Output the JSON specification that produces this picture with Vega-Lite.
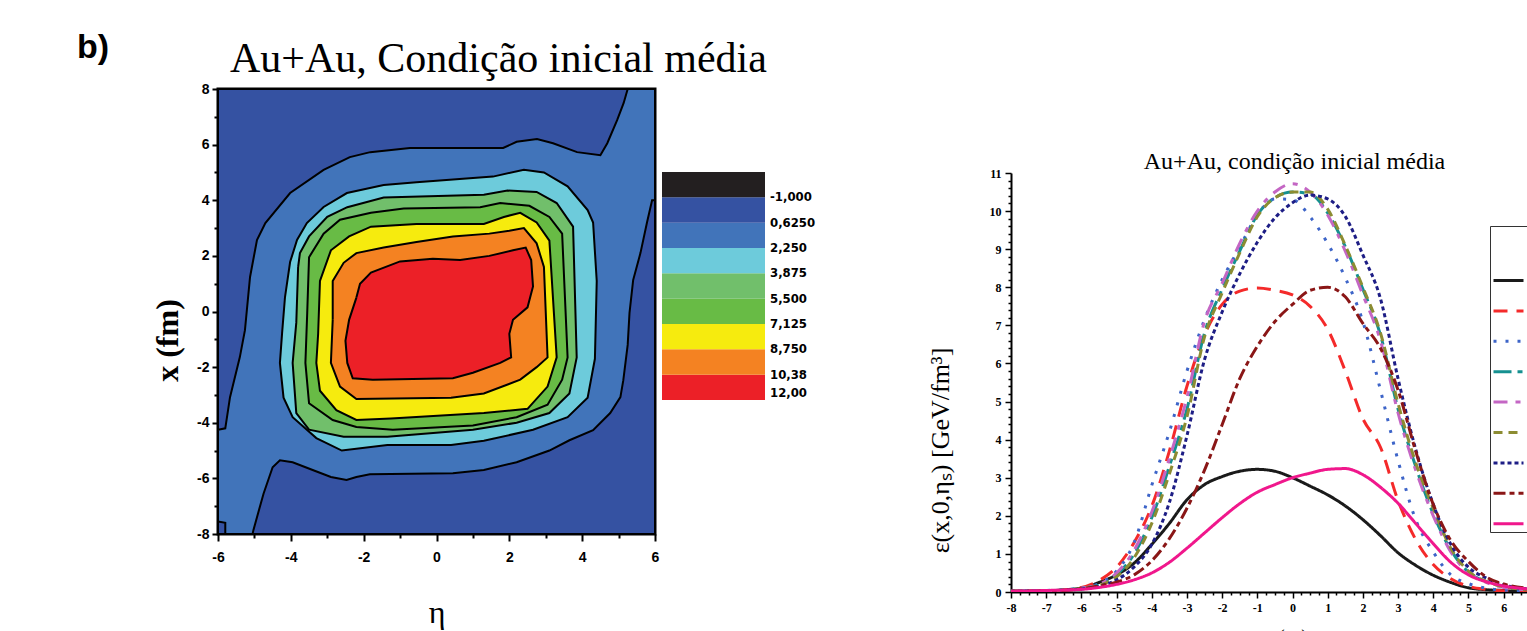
{
  "$schema": "https://vega.github.io/schema/vega-lite/v6.json",
  "autosize": {"type": "none", "resize": false},
  "padding": {"left": 218, "top": 89, "right": 1309, "bottom": 542},
  "background": "white",
  "title": {"text": "b)", "anchor": "start", "frame": "bounds", "offset": -28, "dx": -73, "font": "Liberation Sans", "fontWeight": "bold", "fontSize": 34, "color": "black"},
  "spacing": 158,
  "config": {
    "axis": {"labelColor": "black", "tickColor": "black", "domainColor": "black", "titleColor": "black", "grid": false},
    "legend": {"labelColor": "black"},
    "view": {"stroke": null}
  },
  "datasets": {
    "contours": [
      {"lvl":0,"i":0,"eta":-6,"x":-8,"nv":0.2},{"lvl":0,"i":1,"eta":6,"x":-8,"nv":0.2},{"lvl":0,"i":2,"eta":6,"x":8,"nv":0.2},{"lvl":0,"i":3,"eta":-6,"x":8,"nv":0.2},{"lvl":0,"i":4,"eta":-6,"x":-8,"nv":0.2},
      {"lvl":1,"i":0,"eta":-6,"x":-4.25,"nv":-1.4},{"lvl":1,"i":1,"eta":-5.8,"x":-4.2,"nv":-1.4},{"lvl":1,"i":2,"eta":-5.67,"x":-3.08,"nv":-1.4},{"lvl":1,"i":3,"eta":-5.4,"x":-1.64,"nv":-1.4},{"lvl":1,"i":4,"eta":-5.26,"x":-0.67,"nv":-1.4},{"lvl":1,"i":5,"eta":-5.12,"x":1.24,"nv":-1.4},{"lvl":1,"i":6,"eta":-4.93,"x":2.57,"nv":-1.4},{"lvl":1,"i":7,"eta":-4.7,"x":3.18,"nv":-1.4},{"lvl":1,"i":8,"eta":-4.02,"x":4.26,"nv":-1.4},{"lvl":1,"i":9,"eta":-3.1,"x":5.09,"nv":-1.4},{"lvl":1,"i":10,"eta":-2.38,"x":5.55,"nv":-1.4},{"lvl":1,"i":11,"eta":-1.82,"x":5.73,"nv":-1.4},{"lvl":1,"i":12,"eta":-0.73,"x":5.88,"nv":-1.4},{"lvl":1,"i":13,"eta":1.83,"x":5.88,"nv":-1.4},{"lvl":1,"i":14,"eta":2.2,"x":6.1,"nv":-1.4},{"lvl":1,"i":15,"eta":2.76,"x":6.2,"nv":-1.4},{"lvl":1,"i":16,"eta":3.2,"x":6.05,"nv":-1.4},{"lvl":1,"i":17,"eta":3.86,"x":5.73,"nv":-1.4},{"lvl":1,"i":18,"eta":4.5,"x":5.62,"nv":-1.4},{"lvl":1,"i":19,"eta":4.69,"x":6.05,"nv":-1.4},{"lvl":1,"i":20,"eta":4.96,"x":6.88,"nv":-1.4},{"lvl":1,"i":21,"eta":5.14,"x":7.5,"nv":-1.4},{"lvl":1,"i":22,"eta":5.25,"x":8,"nv":-1.4},{"lvl":1,"i":23,"eta":6,"x":8,"nv":-1.4},{"lvl":1,"i":24,"eta":6,"x":4,"nv":-1.4},{"lvl":1,"i":25,"eta":5.92,"x":4,"nv":-1.4},{"lvl":1,"i":26,"eta":5.78,"x":3.2,"nv":-1.4},{"lvl":1,"i":27,"eta":5.6,"x":2.1,"nv":-1.4},{"lvl":1,"i":28,"eta":5.4,"x":1.13,"nv":-1.4},{"lvl":1,"i":29,"eta":5.3,"x":-0.05,"nv":-1.4},{"lvl":1,"i":30,"eta":5.25,"x":-1.2,"nv":-1.4},{"lvl":1,"i":31,"eta":5.13,"x":-2.47,"nv":-1.4},{"lvl":1,"i":32,"eta":5.05,"x":-3.08,"nv":-1.4},{"lvl":1,"i":33,"eta":4.77,"x":-3.65,"nv":-1.4},{"lvl":1,"i":34,"eta":4.3,"x":-4.27,"nv":-1.4},{"lvl":1,"i":35,"eta":3.65,"x":-4.63,"nv":-1.4},{"lvl":1,"i":36,"eta":3.1,"x":-5.0,"nv":-1.4},{"lvl":1,"i":37,"eta":2.2,"x":-5.42,"nv":-1.4},{"lvl":1,"i":38,"eta":1.3,"x":-5.7,"nv":-1.4},{"lvl":1,"i":39,"eta":0.45,"x":-5.82,"nv":-1.4},{"lvl":1,"i":40,"eta":-1.83,"x":-5.85,"nv":-1.4},{"lvl":1,"i":41,"eta":-2.2,"x":-5.95,"nv":-1.4},{"lvl":1,"i":42,"eta":-2.47,"x":-6.06,"nv":-1.4},{"lvl":1,"i":43,"eta":-2.9,"x":-5.95,"nv":-1.4},{"lvl":1,"i":44,"eta":-3.4,"x":-5.7,"nv":-1.4},{"lvl":1,"i":45,"eta":-3.95,"x":-5.42,"nv":-1.4},{"lvl":1,"i":46,"eta":-4.3,"x":-5.35,"nv":-1.4},{"lvl":1,"i":47,"eta":-4.5,"x":-5.6,"nv":-1.4},{"lvl":1,"i":48,"eta":-4.75,"x":-6.55,"nv":-1.4},{"lvl":1,"i":49,"eta":-5.03,"x":-7.87,"nv":-1.4},{"lvl":1,"i":50,"eta":-5.05,"x":-8,"nv":-1.4},{"lvl":1,"i":51,"eta":-5.8,"x":-8,"nv":-1.4},{"lvl":1,"i":52,"eta":-5.8,"x":-7.6,"nv":-1.4},{"lvl":1,"i":53,"eta":-6,"x":-7.55,"nv":-1.4},{"lvl":1,"i":54,"eta":-6,"x":-4.25,"nv":-1.4},
      {"lvl":2,"i":0,"eta":-4.16,"x":0.52,"nv":-3.0},{"lvl":2,"i":1,"eta":-4.02,"x":1.78,"nv":-3.0},{"lvl":2,"i":2,"eta":-3.83,"x":2.57,"nv":-3.0},{"lvl":2,"i":3,"eta":-3.56,"x":3.18,"nv":-3.0},{"lvl":2,"i":4,"eta":-3.1,"x":3.76,"nv":-3.0},{"lvl":2,"i":5,"eta":-2.46,"x":4.26,"nv":-3.0},{"lvl":2,"i":6,"eta":-1.45,"x":4.55,"nv":-3.0},{"lvl":2,"i":7,"eta":-0.55,"x":4.65,"nv":-3.0},{"lvl":2,"i":8,"eta":1.55,"x":4.85,"nv":-3.0},{"lvl":2,"i":9,"eta":2.4,"x":5.1,"nv":-3.0},{"lvl":2,"i":10,"eta":2.95,"x":5.0,"nv":-3.0},{"lvl":2,"i":11,"eta":3.6,"x":4.5,"nv":-3.0},{"lvl":2,"i":12,"eta":4.15,"x":3.65,"nv":-3.0},{"lvl":2,"i":13,"eta":4.3,"x":3.2,"nv":-3.0},{"lvl":2,"i":14,"eta":4.4,"x":1.1,"nv":-3.0},{"lvl":2,"i":15,"eta":4.35,"x":-1.7,"nv":-3.0},{"lvl":2,"i":16,"eta":4.15,"x":-3.1,"nv":-3.0},{"lvl":2,"i":17,"eta":3.6,"x":-3.8,"nv":-3.0},{"lvl":2,"i":18,"eta":2.65,"x":-4.25,"nv":-3.0},{"lvl":2,"i":19,"eta":1.3,"x":-4.65,"nv":-3.0},{"lvl":2,"i":20,"eta":0.4,"x":-4.8,"nv":-3.0},{"lvl":2,"i":21,"eta":-1.35,"x":-4.8,"nv":-3.0},{"lvl":2,"i":22,"eta":-2.6,"x":-5.0,"nv":-3.0},{"lvl":2,"i":23,"eta":-3.3,"x":-4.55,"nv":-3.0},{"lvl":2,"i":24,"eta":-3.95,"x":-3.8,"nv":-3.0},{"lvl":2,"i":25,"eta":-4.2,"x":-3.1,"nv":-3.0},{"lvl":2,"i":26,"eta":-4.3,"x":-1.85,"nv":-3.0},{"lvl":2,"i":27,"eta":-4.24,"x":-0.78,"nv":-3.0},{"lvl":2,"i":28,"eta":-4.16,"x":0.52,"nv":-3.0},
      {"lvl":3,"i":0,"eta":-3.8,"x":1.6,"nv":-4.7},{"lvl":3,"i":1,"eta":-3.75,"x":2.1,"nv":-4.7},{"lvl":3,"i":2,"eta":-3.5,"x":2.7,"nv":-4.7},{"lvl":3,"i":3,"eta":-3.0,"x":3.4,"nv":-4.7},{"lvl":3,"i":4,"eta":-2.45,"x":3.75,"nv":-4.7},{"lvl":3,"i":5,"eta":-1.45,"x":4.1,"nv":-4.7},{"lvl":3,"i":6,"eta":1.3,"x":4.2,"nv":-4.7},{"lvl":3,"i":7,"eta":1.95,"x":4.35,"nv":-4.7},{"lvl":3,"i":8,"eta":2.75,"x":4.3,"nv":-4.7},{"lvl":3,"i":9,"eta":3.3,"x":3.9,"nv":-4.7},{"lvl":3,"i":10,"eta":3.75,"x":3.05,"nv":-4.7},{"lvl":3,"i":11,"eta":3.85,"x":-1.65,"nv":-4.7},{"lvl":3,"i":12,"eta":3.65,"x":-2.95,"nv":-4.7},{"lvl":3,"i":13,"eta":3.1,"x":-3.65,"nv":-4.7},{"lvl":3,"i":14,"eta":2.2,"x":-4.0,"nv":-4.7},{"lvl":3,"i":15,"eta":1.0,"x":-4.25,"nv":-4.7},{"lvl":3,"i":16,"eta":-1.35,"x":-4.5,"nv":-4.7},{"lvl":3,"i":17,"eta":-2.55,"x":-4.5,"nv":-4.7},{"lvl":3,"i":18,"eta":-3.5,"x":-4.25,"nv":-4.7},{"lvl":3,"i":19,"eta":-3.85,"x":-3.65,"nv":-4.7},{"lvl":3,"i":20,"eta":-3.95,"x":-1.85,"nv":-4.7},{"lvl":3,"i":21,"eta":-3.85,"x":-0.4,"nv":-4.7},{"lvl":3,"i":22,"eta":-3.8,"x":1.6,"nv":-4.7},
      {"lvl":4,"i":0,"eta":-3.55,"x":-0.05,"nv":-6.3},{"lvl":4,"i":1,"eta":-3.5,"x":1.95,"nv":-6.3},{"lvl":4,"i":2,"eta":-3.1,"x":2.8,"nv":-6.3},{"lvl":4,"i":3,"eta":-2.65,"x":3.3,"nv":-6.3},{"lvl":4,"i":4,"eta":-1.8,"x":3.55,"nv":-6.3},{"lvl":4,"i":5,"eta":-0.9,"x":3.7,"nv":-6.3},{"lvl":4,"i":6,"eta":1.2,"x":3.75,"nv":-6.3},{"lvl":4,"i":7,"eta":1.75,"x":3.9,"nv":-6.3},{"lvl":4,"i":8,"eta":2.55,"x":3.8,"nv":-6.3},{"lvl":4,"i":9,"eta":3.1,"x":3.4,"nv":-6.3},{"lvl":4,"i":10,"eta":3.45,"x":2.8,"nv":-6.3},{"lvl":4,"i":11,"eta":3.6,"x":-1.65,"nv":-6.3},{"lvl":4,"i":12,"eta":3.45,"x":-2.45,"nv":-6.3},{"lvl":4,"i":13,"eta":3.05,"x":-3.35,"nv":-6.3},{"lvl":4,"i":14,"eta":2.2,"x":-3.8,"nv":-6.3},{"lvl":4,"i":15,"eta":1.0,"x":-4.1,"nv":-6.3},{"lvl":4,"i":16,"eta":-1.2,"x":-4.25,"nv":-6.3},{"lvl":4,"i":17,"eta":-2.2,"x":-4.15,"nv":-6.3},{"lvl":4,"i":18,"eta":-2.85,"x":-3.9,"nv":-6.3},{"lvl":4,"i":19,"eta":-3.5,"x":-3.3,"nv":-6.3},{"lvl":4,"i":20,"eta":-3.6,"x":-1.85,"nv":-6.3},{"lvl":4,"i":21,"eta":-3.55,"x":-0.05,"nv":-6.3},
      {"lvl":5,"i":0,"eta":-3.25,"x":-0.8,"nv":-7.9},{"lvl":5,"i":1,"eta":-3.2,"x":1.1,"nv":-7.9},{"lvl":5,"i":2,"eta":-2.9,"x":2.2,"nv":-7.9},{"lvl":5,"i":3,"eta":-2.4,"x":2.7,"nv":-7.9},{"lvl":5,"i":4,"eta":-1.8,"x":3.05,"nv":-7.9},{"lvl":5,"i":5,"eta":-0.55,"x":3.15,"nv":-7.9},{"lvl":5,"i":6,"eta":1.3,"x":3.15,"nv":-7.9},{"lvl":5,"i":7,"eta":1.85,"x":3.4,"nv":-7.9},{"lvl":5,"i":8,"eta":2.3,"x":3.55,"nv":-7.9},{"lvl":5,"i":9,"eta":2.75,"x":3.2,"nv":-7.9},{"lvl":5,"i":10,"eta":3.1,"x":2.55,"nv":-7.9},{"lvl":5,"i":11,"eta":3.3,"x":-1.65,"nv":-7.9},{"lvl":5,"i":12,"eta":3.05,"x":-2.7,"nv":-7.9},{"lvl":5,"i":13,"eta":2.5,"x":-3.5,"nv":-7.9},{"lvl":5,"i":14,"eta":1.3,"x":-3.65,"nv":-7.9},{"lvl":5,"i":15,"eta":-1.25,"x":-3.85,"nv":-7.9},{"lvl":5,"i":16,"eta":-2.2,"x":-3.9,"nv":-7.9},{"lvl":5,"i":17,"eta":-2.75,"x":-3.55,"nv":-7.9},{"lvl":5,"i":18,"eta":-3.2,"x":-2.85,"nv":-7.9},{"lvl":5,"i":19,"eta":-3.3,"x":-1.85,"nv":-7.9},{"lvl":5,"i":20,"eta":-3.25,"x":-0.8,"nv":-7.9},
      {"lvl":6,"i":0,"eta":-2.85,"x":-0.3,"nv":-9.5},{"lvl":6,"i":1,"eta":-2.85,"x":1.1,"nv":-9.5},{"lvl":6,"i":2,"eta":-2.55,"x":1.75,"nv":-9.5},{"lvl":6,"i":3,"eta":-2.2,"x":2.1,"nv":-9.5},{"lvl":6,"i":4,"eta":-1.45,"x":2.3,"nv":-9.5},{"lvl":6,"i":5,"eta":-0.55,"x":2.5,"nv":-9.5},{"lvl":6,"i":6,"eta":0.45,"x":2.7,"nv":-9.5},{"lvl":6,"i":7,"eta":1.45,"x":2.8,"nv":-9.5},{"lvl":6,"i":8,"eta":2.0,"x":2.9,"nv":-9.5},{"lvl":6,"i":9,"eta":2.4,"x":3.0,"nv":-9.5},{"lvl":6,"i":10,"eta":2.75,"x":2.45,"nv":-9.5},{"lvl":6,"i":11,"eta":2.95,"x":1.6,"nv":-9.5},{"lvl":6,"i":12,"eta":3.05,"x":-1.65,"nv":-9.5},{"lvl":6,"i":13,"eta":2.75,"x":-2.0,"nv":-9.5},{"lvl":6,"i":14,"eta":2.3,"x":-2.45,"nv":-9.5},{"lvl":6,"i":15,"eta":1.3,"x":-2.95,"nv":-9.5},{"lvl":6,"i":16,"eta":0.4,"x":-3.1,"nv":-9.5},{"lvl":6,"i":17,"eta":-2.2,"x":-3.15,"nv":-9.5},{"lvl":6,"i":18,"eta":-2.65,"x":-2.7,"nv":-9.5},{"lvl":6,"i":19,"eta":-2.9,"x":-1.85,"nv":-9.5},{"lvl":6,"i":20,"eta":-2.85,"x":-0.3,"nv":-9.5},
      {"lvl":7,"i":0,"eta":-2.2,"x":0.5,"nv":-11.2},{"lvl":7,"i":1,"eta":-2.1,"x":1.0,"nv":-11.2},{"lvl":7,"i":2,"eta":-1.8,"x":1.4,"nv":-11.2},{"lvl":7,"i":3,"eta":-1.0,"x":1.8,"nv":-11.2},{"lvl":7,"i":4,"eta":-0.1,"x":1.9,"nv":-11.2},{"lvl":7,"i":5,"eta":0.65,"x":1.85,"nv":-11.2},{"lvl":7,"i":6,"eta":1.45,"x":2.0,"nv":-11.2},{"lvl":7,"i":7,"eta":2.1,"x":2.2,"nv":-11.2},{"lvl":7,"i":8,"eta":2.45,"x":2.3,"nv":-11.2},{"lvl":7,"i":9,"eta":2.6,"x":1.85,"nv":-11.2},{"lvl":7,"i":10,"eta":2.65,"x":0.9,"nv":-11.2},{"lvl":7,"i":11,"eta":2.5,"x":0.15,"nv":-11.2},{"lvl":7,"i":12,"eta":2.1,"x":-0.3,"nv":-11.2},{"lvl":7,"i":13,"eta":2.0,"x":-0.8,"nv":-11.2},{"lvl":7,"i":14,"eta":2.05,"x":-1.65,"nv":-11.2},{"lvl":7,"i":15,"eta":1.75,"x":-1.85,"nv":-11.2},{"lvl":7,"i":16,"eta":1.0,"x":-2.2,"nv":-11.2},{"lvl":7,"i":17,"eta":0.45,"x":-2.4,"nv":-11.2},{"lvl":7,"i":18,"eta":-1.75,"x":-2.45,"nv":-11.2},{"lvl":7,"i":19,"eta":-2.3,"x":-2.4,"nv":-11.2},{"lvl":7,"i":20,"eta":-2.45,"x":-1.85,"nv":-11.2},{"lvl":7,"i":21,"eta":-2.5,"x":-1.05,"nv":-11.2},{"lvl":7,"i":22,"eta":-2.4,"x":-0.3,"nv":-11.2},{"lvl":7,"i":23,"eta":-2.2,"x":0.5,"nv":-11.2}
    ],
    "curves": [
      {"s":"s1","eta":-8,"e":0.02},{"s":"s1","eta":-7,"e":0.03},{"s":"s1","eta":-6,"e":0.1},{"s":"s1","eta":-5.5,"e":0.25},{"s":"s1","eta":-5,"e":0.45},{"s":"s1","eta":-4.5,"e":0.76},{"s":"s1","eta":-4,"e":1.25},{"s":"s1","eta":-3.5,"e":1.8},{"s":"s1","eta":-3,"e":2.42},{"s":"s1","eta":-2.5,"e":2.82},{"s":"s1","eta":-2,"e":3.03},{"s":"s1","eta":-1.5,"e":3.17},{"s":"s1","eta":-1,"e":3.22},{"s":"s1","eta":-0.5,"e":3.17},{"s":"s1","eta":0,"e":3.0},{"s":"s1","eta":0.5,"e":2.78},{"s":"s1","eta":1,"e":2.55},{"s":"s1","eta":1.5,"e":2.26},{"s":"s1","eta":2,"e":1.9},{"s":"s1","eta":2.5,"e":1.48},{"s":"s1","eta":3,"e":1.03},{"s":"s1","eta":3.5,"e":0.7},{"s":"s1","eta":4,"e":0.44},{"s":"s1","eta":4.5,"e":0.25},{"s":"s1","eta":5,"e":0.11},{"s":"s1","eta":5.5,"e":0.06},{"s":"s1","eta":6,"e":0.04},{"s":"s1","eta":7,"e":0.02},{"s":"s1","eta":8,"e":0.01},
      {"s":"s2","eta":-8,"e":0.02},{"s":"s2","eta":-7,"e":0.03},{"s":"s2","eta":-6,"e":0.12},{"s":"s2","eta":-5.5,"e":0.3},{"s":"s2","eta":-5,"e":0.65},{"s":"s2","eta":-4.5,"e":1.3},{"s":"s2","eta":-4,"e":2.25},{"s":"s2","eta":-3.5,"e":3.7},{"s":"s2","eta":-3,"e":5.4},{"s":"s2","eta":-2.5,"e":6.75},{"s":"s2","eta":-2,"e":7.55},{"s":"s2","eta":-1.5,"e":7.9},{"s":"s2","eta":-1,"e":7.98},{"s":"s2","eta":-0.5,"e":7.92},{"s":"s2","eta":0,"e":7.8},{"s":"s2","eta":0.5,"e":7.5},{"s":"s2","eta":1,"e":6.9},{"s":"s2","eta":1.5,"e":5.8},{"s":"s2","eta":2,"e":4.55},{"s":"s2","eta":2.5,"e":3.8},{"s":"s2","eta":3,"e":2.4},{"s":"s2","eta":3.5,"e":1.38},{"s":"s2","eta":4,"e":0.72},{"s":"s2","eta":4.5,"e":0.35},{"s":"s2","eta":5,"e":0.15},{"s":"s2","eta":5.5,"e":0.07},{"s":"s2","eta":6,"e":0.03},{"s":"s2","eta":7,"e":0.02},{"s":"s2","eta":8,"e":0.01},
      {"s":"s3","eta":-8,"e":0.02},{"s":"s3","eta":-7,"e":0.04},{"s":"s3","eta":-6,"e":0.1},{"s":"s3","eta":-5.5,"e":0.22},{"s":"s3","eta":-5,"e":0.55},{"s":"s3","eta":-4.5,"e":1.3},{"s":"s3","eta":-4,"e":2.8},{"s":"s3","eta":-3.5,"e":4.2},{"s":"s3","eta":-3,"e":5.8},{"s":"s3","eta":-2.5,"e":7.15},{"s":"s3","eta":-2,"e":8.2},{"s":"s3","eta":-1.5,"e":9.05},{"s":"s3","eta":-1,"e":9.9},{"s":"s3","eta":-0.5,"e":10.32},{"s":"s3","eta":0,"e":10.3},{"s":"s3","eta":0.5,"e":9.85},{"s":"s3","eta":1,"e":9.15},{"s":"s3","eta":1.5,"e":8.25},{"s":"s3","eta":2,"e":7.1},{"s":"s3","eta":2.5,"e":5.3},{"s":"s3","eta":3,"e":3.45},{"s":"s3","eta":3.5,"e":1.9},{"s":"s3","eta":4,"e":1.05},{"s":"s3","eta":4.5,"e":0.45},{"s":"s3","eta":5,"e":0.22},{"s":"s3","eta":5.5,"e":0.1},{"s":"s3","eta":6,"e":0.05},{"s":"s3","eta":7,"e":0.02},{"s":"s3","eta":8,"e":0.01},
      {"s":"s4","eta":-8,"e":0.02},{"s":"s4","eta":-7,"e":0.03},{"s":"s4","eta":-6,"e":0.1},{"s":"s4","eta":-5.5,"e":0.18},{"s":"s4","eta":-5,"e":0.45},{"s":"s4","eta":-4.5,"e":1.0},{"s":"s4","eta":-4,"e":1.95},{"s":"s4","eta":-3.5,"e":3.3},{"s":"s4","eta":-3,"e":4.8},{"s":"s4","eta":-2.5,"e":6.8},{"s":"s4","eta":-2,"e":7.95},{"s":"s4","eta":-1.5,"e":8.95},{"s":"s4","eta":-1,"e":9.9},{"s":"s4","eta":-0.5,"e":10.35},{"s":"s4","eta":0,"e":10.5},{"s":"s4","eta":0.5,"e":10.45},{"s":"s4","eta":1,"e":9.95},{"s":"s4","eta":1.5,"e":9.07},{"s":"s4","eta":2,"e":7.95},{"s":"s4","eta":2.5,"e":6.75},{"s":"s4","eta":3,"e":4.8},{"s":"s4","eta":3.5,"e":3.3},{"s":"s4","eta":4,"e":2.05},{"s":"s4","eta":4.5,"e":1.1},{"s":"s4","eta":5,"e":0.52},{"s":"s4","eta":5.5,"e":0.27},{"s":"s4","eta":6,"e":0.14},{"s":"s4","eta":7,"e":0.04},{"s":"s4","eta":8,"e":0.01},
      {"s":"s5","eta":-8,"e":0.02},{"s":"s5","eta":-7,"e":0.03},{"s":"s5","eta":-6,"e":0.1},{"s":"s5","eta":-5.5,"e":0.2},{"s":"s5","eta":-5,"e":0.5},{"s":"s5","eta":-4.5,"e":1.1},{"s":"s5","eta":-4,"e":2.1},{"s":"s5","eta":-3.5,"e":3.5},{"s":"s5","eta":-3,"e":5.1},{"s":"s5","eta":-2.5,"e":7.1},{"s":"s5","eta":-2,"e":8.1},{"s":"s5","eta":-1.5,"e":9.15},{"s":"s5","eta":-1,"e":10.0},{"s":"s5","eta":-0.5,"e":10.5},{"s":"s5","eta":0,"e":10.72},{"s":"s5","eta":0.5,"e":10.5},{"s":"s5","eta":1,"e":9.9},{"s":"s5","eta":1.5,"e":8.95},{"s":"s5","eta":2,"e":7.8},{"s":"s5","eta":2.5,"e":6.6},{"s":"s5","eta":3,"e":4.7},{"s":"s5","eta":3.5,"e":3.2},{"s":"s5","eta":4,"e":2.0},{"s":"s5","eta":4.5,"e":1.05},{"s":"s5","eta":5,"e":0.5},{"s":"s5","eta":5.5,"e":0.25},{"s":"s5","eta":6,"e":0.12},{"s":"s5","eta":7,"e":0.04},{"s":"s5","eta":8,"e":0.01},
      {"s":"s6","eta":-8,"e":0.02},{"s":"s6","eta":-7,"e":0.03},{"s":"s6","eta":-6,"e":0.09},{"s":"s6","eta":-5.5,"e":0.17},{"s":"s6","eta":-5,"e":0.4},{"s":"s6","eta":-4.5,"e":0.9},{"s":"s6","eta":-4,"e":1.8},{"s":"s6","eta":-3.5,"e":3.1},{"s":"s6","eta":-3,"e":4.6},{"s":"s6","eta":-2.5,"e":6.7},{"s":"s6","eta":-2,"e":7.85},{"s":"s6","eta":-1.5,"e":8.9},{"s":"s6","eta":-1,"e":9.85},{"s":"s6","eta":-0.5,"e":10.35},{"s":"s6","eta":0,"e":10.5},{"s":"s6","eta":0.5,"e":10.5},{"s":"s6","eta":1,"e":10.05},{"s":"s6","eta":1.5,"e":9.1},{"s":"s6","eta":2,"e":8.0},{"s":"s6","eta":2.5,"e":6.8},{"s":"s6","eta":3,"e":4.95},{"s":"s6","eta":3.5,"e":3.4},{"s":"s6","eta":4,"e":2.2},{"s":"s6","eta":4.5,"e":1.15},{"s":"s6","eta":5,"e":0.55},{"s":"s6","eta":5.5,"e":0.28},{"s":"s6","eta":6,"e":0.14},{"s":"s6","eta":7,"e":0.04},{"s":"s6","eta":8,"e":0.01},
      {"s":"s7","eta":-8,"e":0.02},{"s":"s7","eta":-7,"e":0.03},{"s":"s7","eta":-6,"e":0.08},{"s":"s7","eta":-5.5,"e":0.15},{"s":"s7","eta":-5,"e":0.32},{"s":"s7","eta":-4.5,"e":0.66},{"s":"s7","eta":-4,"e":1.25},{"s":"s7","eta":-3.5,"e":2.35},{"s":"s7","eta":-3,"e":4.1},{"s":"s7","eta":-2.5,"e":6.1},{"s":"s7","eta":-2,"e":7.35},{"s":"s7","eta":-1.5,"e":8.35},{"s":"s7","eta":-1,"e":9.18},{"s":"s7","eta":-0.5,"e":9.82},{"s":"s7","eta":0,"e":10.22},{"s":"s7","eta":0.5,"e":10.42},{"s":"s7","eta":1,"e":10.32},{"s":"s7","eta":1.5,"e":9.86},{"s":"s7","eta":2,"e":8.85},{"s":"s7","eta":2.5,"e":7.7},{"s":"s7","eta":3,"e":5.6},{"s":"s7","eta":3.5,"e":3.75},{"s":"s7","eta":4,"e":2.3},{"s":"s7","eta":4.5,"e":1.25},{"s":"s7","eta":5,"e":0.65},{"s":"s7","eta":5.5,"e":0.37},{"s":"s7","eta":6,"e":0.18},{"s":"s7","eta":7,"e":0.06},{"s":"s7","eta":8,"e":0.02},
      {"s":"s8","eta":-8,"e":0.02},{"s":"s8","eta":-7,"e":0.03},{"s":"s8","eta":-6,"e":0.08},{"s":"s8","eta":-5.5,"e":0.16},{"s":"s8","eta":-5,"e":0.26},{"s":"s8","eta":-4.5,"e":0.45},{"s":"s8","eta":-4,"e":0.82},{"s":"s8","eta":-3.5,"e":1.4},{"s":"s8","eta":-3,"e":2.2},{"s":"s8","eta":-2.5,"e":3.2},{"s":"s8","eta":-2,"e":4.39},{"s":"s8","eta":-1.5,"e":5.6},{"s":"s8","eta":-1,"e":6.45},{"s":"s8","eta":-0.5,"e":7.1},{"s":"s8","eta":0,"e":7.55},{"s":"s8","eta":0.5,"e":7.92},{"s":"s8","eta":1,"e":8.0},{"s":"s8","eta":1.5,"e":7.75},{"s":"s8","eta":2,"e":7.05},{"s":"s8","eta":2.5,"e":6.4},{"s":"s8","eta":3,"e":5.3},{"s":"s8","eta":3.5,"e":3.7},{"s":"s8","eta":4,"e":2.3},{"s":"s8","eta":4.5,"e":1.35},{"s":"s8","eta":5,"e":0.8},{"s":"s8","eta":5.5,"e":0.4},{"s":"s8","eta":6,"e":0.21},{"s":"s8","eta":7,"e":0.07},{"s":"s8","eta":8,"e":0.02},
      {"s":"s9","eta":-8,"e":0.02},{"s":"s9","eta":-7,"e":0.04},{"s":"s9","eta":-6,"e":0.07},{"s":"s9","eta":-5.5,"e":0.12},{"s":"s9","eta":-5,"e":0.2},{"s":"s9","eta":-4.5,"e":0.32},{"s":"s9","eta":-4,"e":0.5},{"s":"s9","eta":-3.5,"e":0.78},{"s":"s9","eta":-3,"e":1.15},{"s":"s9","eta":-2.5,"e":1.55},{"s":"s9","eta":-2,"e":1.95},{"s":"s9","eta":-1.5,"e":2.32},{"s":"s9","eta":-1,"e":2.62},{"s":"s9","eta":-0.5,"e":2.82},{"s":"s9","eta":0,"e":3.0},{"s":"s9","eta":0.5,"e":3.12},{"s":"s9","eta":1,"e":3.22},{"s":"s9","eta":1.5,"e":3.24},{"s":"s9","eta":2,"e":3.08},{"s":"s9","eta":2.5,"e":2.75},{"s":"s9","eta":3,"e":2.33},{"s":"s9","eta":3.5,"e":1.8},{"s":"s9","eta":4,"e":1.27},{"s":"s9","eta":4.5,"e":0.78},{"s":"s9","eta":5,"e":0.45},{"s":"s9","eta":5.5,"e":0.27},{"s":"s9","eta":6,"e":0.16},{"s":"s9","eta":7,"e":0.06},{"s":"s9","eta":8,"e":0.02}
    ]
  },
  "hconcat": [
    {
      "width": 437,
      "height": 445,
      "view": {"stroke": "black", "strokeWidth": 3},
      "title": {"text": "Au+Au, Condição inicial média", "anchor": "start", "frame": "group", "dx": 12, "offset": 1, "font": "Liberation Serif", "fontSize": 42, "fontWeight": "normal", "color": "black"},
      "data": {"name": "contours"},
      "mark": {"type": "line", "stroke": "black", "strokeWidth": 2, "interpolate": "linear", "clip": true},
      "encoding": {
        "x": {"field": "eta", "type": "quantitative", "scale": {"domain": [-6, 6], "nice": false, "zero": false},
          "axis": {"values": [-6,-5,-4,-3,-2,-1,0,1,2,3,4,5,6], "labelExpr": "datum.value % 2 === 0 ? '' + datum.value : ''",
            "tickSize": {"condition": {"test": "datum.value % 2 === 0", "value": 7}, "value": 4}, "tickWidth": 2,
            "domain": false, "labelFlush": false, "labelOverlap": false, "labelFont": "Liberation Sans", "labelFontWeight": "bold", "labelFontSize": 14, "labelPadding": 9,
            "title": "η", "titleFont": "Liberation Serif", "titleFontSize": 32, "titleFontWeight": "normal", "titlePadding": 33}},
        "y": {"field": "x", "type": "quantitative", "scale": {"domain": [-8, 8], "nice": false, "zero": false},
          "axis": {"values": [-8,-7,-6,-5,-4,-3,-2,-1,0,1,2,3,4,5,6,7,8], "labelExpr": "datum.value % 2 === 0 ? '' + datum.value : ''",
            "tickSize": {"condition": {"test": "datum.value % 2 === 0", "value": 6}, "value": 4}, "tickWidth": 2,
            "domain": false, "labelFlush": false, "labelOverlap": false, "labelFont": "Liberation Sans", "labelFontWeight": "bold", "labelFontSize": 14, "labelPadding": 3,
            "title": "x (fm)", "titleFont": "Liberation Serif", "titleFontSize": 32, "titleFontWeight": "bold", "titlePadding": 12, "titleY": 251}},
        "order": {"field": "i", "type": "quantitative"},
        "detail": {"field": "lvl", "type": "nominal"},
        "fill": {"field": "nv", "type": "quantitative",
          "scale": {"type": "quantize", "domain": [-12, 2.625], "range": ["#ec2027", "#f48222", "#f6eb0e", "#68bb45", "#71bf6b", "#6dcbdb", "#4174ba", "#3552a2", "#231f20"]},
          "legend": {"type": "gradient", "orient": "none", "legendX": 444, "legendY": 83, "direction": "vertical", "title": null,
            "gradientLength": 228, "gradientThickness": 103, "gradientStrokeWidth": 0,
            "values": [-12, -10.375, -8.75, -7.125, -5.5, -3.875, -2.25, -0.625, 1],
            "labelExpr": "replace(replace(format(-datum.value, '.4r'), '.', ','), '−', '-')",
            "labelFont": "DejaVu Sans Condensed, Liberation Sans", "labelFontWeight": "bold", "labelFontSize": 13, "labelOffset": 5, "labelOverlap": false}}
      }
    },
    {
      "width": 563,
      "height": 503,
      "title": {"text": "Au+Au, condição inicial média", "anchor": "middle", "frame": "group", "dx": 2, "offset": -85, "font": "Liberation Serif", "fontSize": 24, "fontWeight": "normal", "color": "black"},
      "data": {"name": "curves"},
      "mark": {"type": "line", "strokeWidth": 3, "interpolate": "monotone", "clip": true},
      "encoding": {
        "x": {"field": "eta", "type": "quantitative", "scale": {"domain": [-8, 8], "nice": false, "zero": false},
          "axis": {"values": [-8,-7.75,-7.5,-7.25,-7,-6.75,-6.5,-6.25,-6,-5.75,-5.5,-5.25,-5,-4.75,-4.5,-4.25,-4,-3.75,-3.5,-3.25,-3,-2.75,-2.5,-2.25,-2,-1.75,-1.5,-1.25,-1,-0.75,-0.5,-0.25,0,0.25,0.5,0.75,1,1.25,1.5,1.75,2,2.25,2.5,2.75,3,3.25,3.5,3.75,4,4.25,4.5,4.75,5,5.25,5.5,5.75,6,6.25,6.5,6.75,7,7.25,7.5,7.75,8],
            "labelExpr": "datum.value % 1 === 0 ? '' + datum.value : ''",
            "tickSize": {"condition": {"test": "datum.value % 1 === 0", "value": 6}, "value": 3}, "tickWidth": 1.5, "domainWidth": 2,
            "labelFlush": false, "labelOverlap": false, "labelFont": "Liberation Serif", "labelFontWeight": "bold", "labelFontSize": 12, "labelPadding": 4,
            "title": "(ηₛ)", "titleFont": "Liberation Serif", "titleFontSize": 20, "titleFontWeight": "normal", "titlePadding": 14}},
        "y": {"field": "e", "type": "quantitative", "scale": {"domain": [0, 11], "range": [503, 84], "nice": false, "zero": false},
          "axis": {"values": [0,0.2,0.4,0.6,0.8,1,1.2,1.4,1.6,1.8,2,2.2,2.4,2.6,2.8,3,3.2,3.4,3.6,3.8,4,4.2,4.4,4.6,4.8,5,5.2,5.4,5.6,5.8,6,6.2,6.4,6.6,6.8,7,7.2,7.4,7.6,7.8,8,8.2,8.4,8.6,8.8,9,9.2,9.4,9.6,9.8,10,10.2,10.4,10.6,10.8,11],
            "labelExpr": "datum.value % 1 === 0 ? '' + datum.value : ''",
            "tickSize": {"condition": {"test": "datum.value % 1 === 0", "value": 6}, "value": 3}, "tickWidth": 1.5, "domainWidth": 2,
            "labelFlush": false, "labelOverlap": false, "labelFont": "Liberation Serif", "labelFontWeight": "bold", "labelFontSize": 12, "labelPadding": 4,
            "title": "ε(x,0,ηₛ) [GeV/fm³]", "titleFont": "Liberation Serif", "titleFontSize": 26, "titleFontWeight": "normal", "titlePadding": 36, "titleY": 361}},
        "color": {"field": "s", "type": "nominal",
          "scale": {"domain": ["s1","s2","s3","s4","s5","s6","s7","s8","s9"], "range": ["#1a1a1a", "#f42a2a", "#3d64c8", "#159090", "#c466c4", "#8c8c32", "#1d1d85", "#8a1616", "#f0178c"]},
          "legend": {"orient": "none", "legendX": 1272, "legendY": 137, "title": " ", "titleFontSize": 18, "titlePadding": 18,
            "symbolType": "stroke", "symbolSize": 900, "symbolStrokeWidth": 3, "labelExpr": "''", "labelOffset": 0, "rowPadding": 7.4,
            "strokeColor": "#333333", "padding": 2}},
        "strokeDash": {"field": "s", "type": "nominal",
          "scale": {"domain": ["s1","s2","s3","s4","s5","s6","s7","s8","s9"], "range": [[1,0], [14,9], [3,9], [18,6,5,6], [14,8,5,8], [9,6], [4,3], [12,4,5,4], [1,0]]},
          "legend": {"orient": "none", "legendX": 1272, "legendY": 137, "title": " ", "titleFontSize": 18, "titlePadding": 18,
            "symbolType": "stroke", "symbolSize": 900, "symbolStrokeWidth": 3, "labelExpr": "''", "labelOffset": 0, "rowPadding": 7.4,
            "strokeColor": "#333333", "padding": 2}}
      }
    }
  ]
}
